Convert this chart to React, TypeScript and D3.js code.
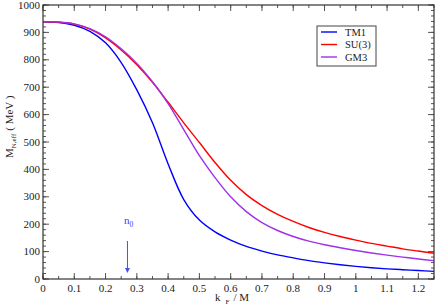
import React from "react";
import * as d3 from "d3";

const kF = [0, 0.05, 0.1, 0.15, 0.2, 0.25, 0.3, 0.35, 0.4, 0.45, 0.5, 0.55, 0.6, 0.65, 0.7, 0.75, 0.8, 0.85, 0.9, 0.95, 1.0, 1.05, 1.1, 1.15, 1.2, 1.25];
const tm1 = [939, 936, 926, 904, 862, 790, 690, 570, 420, 290, 215, 172, 142, 119, 102, 88, 77, 67, 59, 52, 46, 41, 37, 34, 31, 28];
const su3 = [939, 937, 930, 912, 880, 836, 782, 718, 645, 570, 498, 425, 360, 308, 268, 236, 210, 188, 170, 155, 142, 130, 120, 110, 102, 94];
const gm3 = [939, 938, 931, 914, 884, 840, 787, 720, 640, 545, 450, 370, 300, 246, 206, 177, 155, 138, 125, 114, 104, 95, 87, 80, 73, 67];

const seriesNames = ["TM1", "SU(3)", "GM3"];
const seriesColors = ["#0000ff", "#ff0000", "#a030e8"];
const seriesValues = [tm1, su3, gm3];

const xTicks = [0, 0.1, 0.2, 0.3, 0.4, 0.5, 0.6, 0.7, 0.8, 0.9, 1, 1.1, 1.2];
const yTicks = [0, 100, 200, 300, 400, 500, 600, 700, 800, 900, 1000];
const n0 = 0.27;

export default function App() {
  const W = 436, H = 308;
  const L = 43, R = 434, T = 5, B = 279;
  const x = d3.scaleLinear().domain([0, 1.25]).range([L, R]);
  const y = d3.scaleLinear().domain([0, 1000]).range([B, T]);
  const line = d3
    .line<number>()
    .x((_, i) => x(kF[i]))
    .y((v) => y(v))
    .curve(d3.curveCatmullRom.alpha(0.5));

  const xMinor = d3.range(0, 1.2501, 0.05);
  const yMinor = d3.range(0, 1000.1, 20);
  const font = "'Liberation Serif', 'Times New Roman', serif";
  const tickCol = "#555";
  const ts = { fontFamily: font };

  return (
    <svg width={W} height={H} style={{ position: "absolute", left: 0, top: 0, fontFamily: font }}>
      <rect width={W} height={H} fill="#fff" />
      {xMinor.map((t, i) => (
        <g key={"xm" + i} stroke={tickCol} strokeWidth={1}>
          <line x1={x(t)} x2={x(t)} y1={B} y2={B - 3} />
          <line x1={x(t)} x2={x(t)} y1={T} y2={T + 3} />
        </g>
      ))}
      {yMinor.map((t, i) => (
        <g key={"ym" + i} stroke={tickCol} strokeWidth={1}>
          <line x1={L} x2={L + 3} y1={y(t)} y2={y(t)} />
          <line x1={R} x2={R - 3} y1={y(t)} y2={y(t)} />
        </g>
      ))}
      {xTicks.map((t, i) => (
        <g key={"xt" + i}>
          <line x1={x(t)} x2={x(t)} y1={B} y2={B - 6} stroke={tickCol} />
          <line x1={x(t)} x2={x(t)} y1={T} y2={T + 6} stroke={tickCol} />
          <text x={x(t)} y={B + 13} fontSize={11} textAnchor="middle" fill="#222" style={ts}>
            {String(t)}
          </text>
        </g>
      ))}
      {yTicks.map((t, i) => (
        <g key={"yt" + i}>
          <line x1={L} x2={L + 6} y1={y(t)} y2={y(t)} stroke={tickCol} />
          <line x1={R} x2={R - 6} y1={y(t)} y2={y(t)} stroke={tickCol} />
          <text x={L - 3} y={y(t) + 3.5} fontSize={11} textAnchor="end" fill="#222" style={ts}>
            {String(t)}
          </text>
        </g>
      ))}
      {seriesValues.map((vals, i) => (
        <path key={"s" + i} d={line(vals) || ""} fill="none" stroke={seriesColors[i]} strokeWidth={1.4} />
      ))}
      <rect x={L} y={T} width={R - L} height={B - T} fill="none" stroke="#333" strokeWidth={1.2} />
      <rect x={317} y={26} width={59} height={40} fill="#fff" stroke="#444" strokeWidth={1} />
      {seriesNames.map((n, i) => (
        <g key={"lg" + i}>
          <line x1={321} x2={337} y1={32 + i * 12.5} y2={32 + i * 12.5} stroke={seriesColors[i]} strokeWidth={1.4} />
          <text x={345} y={35.5 + i * 12.5} fontSize={10.5} fill="#222" style={ts}>
            {n}
          </text>
        </g>
      ))}
      <text x={124} y={224} fontSize={11} fill="#3a3aff" style={ts}>
        n
        <tspan dy={3} fontSize={7.5}>0</tspan>
      </text>
      <line x1={x(n0)} x2={x(n0)} y1={241} y2={270} stroke="#4a4aff" strokeWidth={1} />
      <path d={`M${x(n0) - 2.5},${268} L${x(n0) + 2.5},${268} L${x(n0)},${273} Z`} fill="#4a4aff" />
      <text x={215} y={301} fontSize={11} fill="#222" style={ts}>
        k
        <tspan dx={5} dy={3} fontSize={7}>F</tspan>
        <tspan dx={4} dy={-3}>/ M</tspan>
      </text>
      <text transform="translate(13,158) rotate(-90)" fontSize={11} fill="#222" style={ts}>
        M
        <tspan dy={3} fontSize={7}>N,eff</tspan>
        <tspan dx={3} dy={-3}>( MeV )</tspan>
      </text>
    </svg>
  );
}
